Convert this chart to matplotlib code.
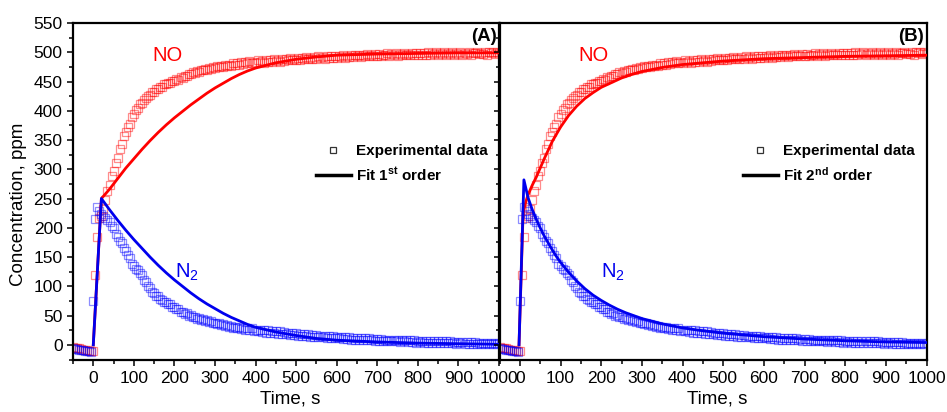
import matplotlib
matplotlib.use("Agg")
import matplotlib.pyplot as plt
from matplotlib.ticker import MultipleLocator
from matplotlib.lines import Line2D

plt.rcParams['font.family'] = ['Liberation Sans', 'DejaVu Sans']
plt.rcParams['mathtext.fontset'] = 'custom'
plt.rcParams['mathtext.rm'] = 'Liberation Sans'
plt.rcParams['mathtext.bf'] = 'Liberation Sans:bold'
plt.rcParams['mathtext.it'] = 'Liberation Sans:italic'

# ---------------- data ----------------
# experimental sampling times (s)
t_exp = list(range(-50, 1001, 5))

# NO experimental concentration (ppm), same measurement shown in both panels
no_exp = [
    -4, -5, -6, -6, -7, -8, -8, -9, -10, -10, -11,
    120, 184, 216, 221, 233, 247, 263, 274, 288, 297,
    311, 319, 334, 344, 357, 364, 373, 378, 389, 394,
    401, 404, 411, 413, 419, 421, 426, 427, 432, 432,
    437, 437, 441, 441, 445, 445, 448, 448, 451, 451,
    454, 453, 457, 456, 460, 459, 462, 462, 466, 465,
    468, 467, 470, 469, 472, 470, 473, 472, 475, 473,
    476, 474, 477, 475, 478, 476, 479, 477, 481, 478,
    481, 479, 483, 480, 483, 481, 485, 481, 484, 482,
    486, 483, 485, 482, 487, 484, 486, 483, 488, 485,
    487, 484, 489, 485, 488, 486, 490, 486, 489, 487,
    491, 487, 490, 488, 492, 488, 491, 489, 492, 489,
    493, 490, 492, 489, 494, 490, 493, 491, 494, 490,
    494, 492, 495, 491, 494, 492, 496, 492, 495, 493,
    496, 492, 495, 494, 497, 493, 496, 494, 497, 493,
    497, 494, 496, 495, 498, 494, 497, 495, 498, 494,
    497, 495, 499, 495, 497, 496, 499, 495, 498, 496,
    499, 495, 498, 496, 500, 495, 498, 497, 500, 496,
    498, 497, 500, 496, 499, 497, 500, 496, 499, 497,
    501, 496, 499, 497, 500, 496, 499, 498, 501, 497,
    499, 497, 501, 496, 500, 498, 501, 497, 500, 498,
]

# N2 experimental concentration (ppm)
n2_exp = [
    -6, -7, -7, -8, -9, -9, -10, -10, -11, -12, 75,
    215, 236, 228, 224, 221, 217, 213, 210, 203, 199,
    190, 185, 177, 174, 165, 161, 153, 149, 139, 135,
    130, 128, 122, 119, 111, 107, 101, 98, 91, 89,
    83, 83, 78, 77, 73, 73, 69, 70, 65, 65,
    61, 61, 57, 57, 53, 54, 50, 51, 47, 48,
    45, 46, 43, 44, 41, 42, 39, 40, 37, 38,
    35, 37, 34, 35, 32, 34, 31, 32, 29, 31,
    28, 30, 27, 29, 26, 28, 25, 28, 24, 26,
    23, 26, 22, 25, 21, 25, 21, 24, 20, 23,
    19, 23, 19, 22, 18, 21, 17, 21, 17, 20,
    16, 19, 16, 18, 15, 18, 14, 17, 14, 17,
    13, 16, 13, 15, 12, 15, 12, 15, 11, 14,
    11, 14, 10, 13, 10, 13, 9, 12, 9, 12,
    9, 11, 8, 11, 8, 11, 8, 10, 7, 10,
    7, 10, 7, 9, 6, 9, 6, 9, 6, 9,
    5, 8, 6, 8, 5, 8, 5, 8, 4, 7,
    5, 7, 4, 7, 4, 7, 4, 6, 3, 6,
    4, 6, 3, 6, 3, 6, 3, 5, 2, 5,
    3, 5, 2, 5, 2, 5, 2, 5, 2, 4,
    2, 4, 1, 4, 2, 4, 1, 4, 2, 4,
]

# Panel A: first-order fit
t_fitA = [0, 20, 40, 60, 80, 100, 120, 140, 160, 180, 200, 220, 240, 260,
          280, 300, 320, 340, 360, 380, 400, 450, 500, 550, 600, 700, 800, 900, 1000]
no_fitA = [0, 250, 266, 284, 302, 318, 334, 349, 363, 376, 388, 399, 410, 420,
           430, 439, 447, 455, 462, 468, 473, 482, 488, 492, 495, 497, 498, 499, 499]
n2_fitA = [0, 250, 231, 213, 196, 180, 165, 150, 136, 123, 111, 100, 89, 79,
           70, 62, 54, 47, 41, 35, 30, 22, 16, 11, 8, 5, 3, 2, 1]

# Panel B: second-order fit
t_fitB_no = [-2, 8, 15, 20, 30, 40, 60, 80, 100, 120, 140, 160, 180, 200, 225,
             250, 275, 300, 350, 400, 450, 500, 600, 700, 800, 900, 1000]
no_fitB = [0, 225, 245, 256, 272, 286, 318, 348, 372, 392, 408, 421, 431, 440, 448,
           456, 462, 467, 474, 479, 482, 485, 489, 491, 493, 494, 495]
t_fitB_n2 = [-2, 10, 20, 30, 40, 50, 60, 70, 80, 90, 100, 120, 140, 160, 180, 200,
             220, 240, 260, 280, 300, 350, 400, 450, 500, 600, 700, 800, 900, 1000]
n2_fitB = [0, 282, 252, 232, 215, 200, 186, 174, 162, 151, 141, 124, 109, 96, 85, 76,
           68, 61, 55, 50, 45, 36, 29, 24, 20, 14, 10, 7, 5, 4]

# ---------------- figure ----------------
W, H = 947, 412
fig = plt.figure(figsize=(W / 100, H / 100), dpi=100)
bot = 1 - 359.5 / H
hgt = 336.5 / H
axA = fig.add_axes([73 / W, bot, 426 / W, hgt])
axB = fig.add_axes([499.5 / W, bot, 427 / W, hgt])

red_m = (1, 0, 0, 0.45)
blue_m = (0, 0, 1, 0.45)

panels = [
    (axA, t_fitA, no_fitA, t_fitA, n2_fitA, '(A)', r'Fit 1$^{\mathbf{st}}$ order'),
    (axB, t_fitB_no, no_fitB, t_fitB_n2, n2_fitB, '(B)', r'Fit 2$^{\mathbf{nd}}$ order'),
]

for ax, tno, yno, tn2, yn2, tag, fitlab in panels:
    ax.plot(t_exp, no_exp, ls='none', marker='s', ms=5.4, mfc='none',
            mec=red_m, mew=0.9, zorder=2)
    ax.plot(t_exp, n2_exp, ls='none', marker='s', ms=5.4, mfc='none',
            mec=blue_m, mew=0.9, zorder=2)
    ax.plot(tno, yno, color='#ff0000', lw=2.0, zorder=3)
    ax.plot(tn2, yn2, color='#0000ee', lw=2.0, zorder=4)

    ax.set_xlim(-50, 1000)
    ax.set_ylim(-25, 550)
    ax.xaxis.set_major_locator(MultipleLocator(100))
    ax.xaxis.set_minor_locator(MultipleLocator(50))
    ax.yaxis.set_major_locator(MultipleLocator(50))
    ax.yaxis.set_minor_locator(MultipleLocator(25))
    ax.tick_params(which='both', direction='out', top=False, right=False,
                   width=1.1, labelsize=12.5)
    ax.tick_params(which='major', length=4.5)
    ax.tick_params(which='minor', length=3)
    ax.tick_params(axis='x', pad=4)
    ax.tick_params(axis='y', pad=3)
    for s in ax.spines.values():
        s.set_linewidth(1.6)
    ax.patch.set_alpha(0)

    ax.set_xlabel('Time, s', fontsize=13.5)
    ax.xaxis.set_label_coords(0.51, -0.093)

    ax.text(182, 494, 'NO', color='#ff0000', fontsize=14.5, ha='center', va='center')
    ax.text(230, 124, r'N$_2$', color='#0000ee', fontsize=14.5, ha='center', va='center')
    ax.text(0.995, 0.985, tag, transform=ax.transAxes, ha='right', va='top',
            fontsize=13.5, fontweight='bold')

    handles = [
        Line2D([], [], ls='none', marker='s', ms=5, mfc='none', mec='#333333', mew=0.9),
        Line2D([], [], color='black', lw=2.5),
    ]
    ax.legend(handles, ['Experimental data', fitlab], loc='upper left',
              bbox_to_anchor=(0.57, 0.64), frameon=False,
              prop={'weight': 'bold', 'size': 11}, handlelength=2.3,
              handletextpad=0.3, labelspacing=0.5, borderpad=0, borderaxespad=0)

axA.set_ylabel('Concentration, ppm', fontsize=13.5)
axA.yaxis.set_label_coords(-0.108, 0.462)
axB.tick_params(labelleft=False)
axB.spines['left'].set_zorder(5)

fig.savefig('out.png', dpi=100)
